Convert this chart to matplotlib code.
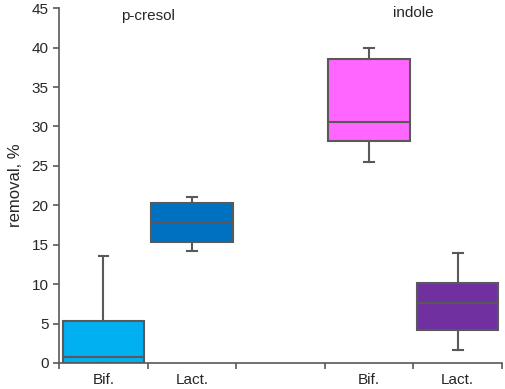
import matplotlib
matplotlib.use("Agg")
from matplotlib import pyplot as plt

plt.rcParams['font.family'] = ['Liberation Sans', 'DejaVu Sans']

# box statistics (removal, %)
labels = ["Bif.", "Lact.", "", "Bif.", "Lact."]
positions = [0, 1, 3, 4]
whislo = [0.0, 14.2, 25.5, 1.7]
q1 = [0.0, 15.3, 28.2, 4.2]
med = [0.8, 17.8, 30.5, 7.6]
q3 = [5.3, 20.3, 38.5, 10.1]
whishi = [13.6, 21.0, 40.0, 14.0]
colors = ["#00B0F0", "#0070C0", "#FF66FF", "#7030A0"]
compounds = ["p-cresol", "indole"]

edge = "#595959"

stats = [
    {"whislo": lo, "q1": a, "med": m, "q3": b, "whishi": hi, "fliers": []}
    for lo, a, m, b, hi in zip(whislo, q1, med, q3, whishi)
]

fig = plt.figure(figsize=(5.05, 3.89), dpi=100)
ax = fig.add_axes([0.117, 0.067, 0.877, 0.912])

bp = ax.bxp(stats, positions=positions, widths=0.92, patch_artist=True,
            showfliers=False,
            boxprops=dict(edgecolor=edge, linewidth=1.5),
            medianprops=dict(color=edge, linewidth=1.5),
            whiskerprops=dict(color=edge, linewidth=1.5),
            capprops=dict(color=edge, linewidth=1.5),
            capwidths=0.11)
for patch, c in zip(bp['boxes'], colors):
    patch.set_facecolor(c)

ax.set_xlim(-0.5, 4.5)
ax.set_ylim(0, 45)
ax.set_yticks(range(0, 46, 5))
ax.set_xticks([x - 0.5 for x in range(6)])
ax.set_xticklabels([])
ax.set_xticks(range(5), minor=True)
ax.set_xticklabels(labels, minor=True)
ax.tick_params(axis='both', which='major', direction='out', length=4,
               width=1.2, color=edge, labelsize=11, labelcolor='#262626')
ax.tick_params(axis='x', which='minor', length=0, pad=7,
               labelsize=11, labelcolor='#262626')

for s in ['top', 'right']:
    ax.spines[s].set_visible(False)
for s in ['left', 'bottom']:
    ax.spines[s].set_color(edge)
    ax.spines[s].set_linewidth(1.2)

ax.set_ylabel("removal, %", fontsize=12, color='#262626', labelpad=6)

ax.text(0.5, 44.0, compounds[0], ha='center', va='center', fontsize=11, color='#262626')
ax.text(3.5, 44.4, compounds[1], ha='center', va='center', fontsize=11, color='#262626')

fig.savefig("out.png", dpi=100)
